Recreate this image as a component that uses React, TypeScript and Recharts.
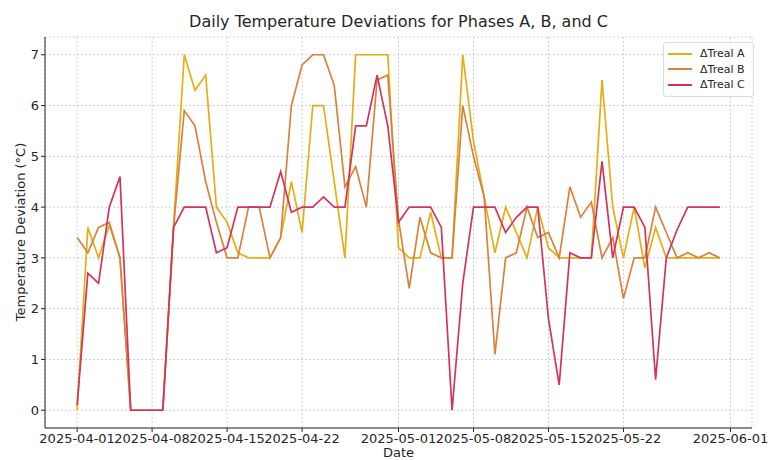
import { LineChart, Line, XAxis, YAxis, CartesianGrid, Legend } from 'recharts'

// one value per day, starting 2025-04-01
const phaseA = [
  0, 3.6, 3.0, 3.65, 3.0, 0, 0, 0, 0, 3.6,
  7.0, 6.3, 6.6, 4.0, 3.7, 3.1, 3.0, 3.0, 3.0, 3.4,
  4.5, 3.5, 6.0, 6.0, 4.5, 3.0, 7.0, 7.0, 7.0, 7.0,
  3.2, 3.0, 3.0, 3.9, 3.0, 3.0, 7.0, 5.3, 4.2, 3.1,
  4.0, 3.5, 3.0, 4.0, 3.2, 3.0, 3.0, 3.0, 3.0, 6.5,
  4.0, 3.0, 4.0, 2.8, 3.6, 3.0, 3.0, 3.0, 3.0, 3.0,
  3.0,
]
const phaseB = [
  3.4, 3.1, 3.6, 3.7, 3.0, 0, 0, 0, 0, 3.6,
  5.9, 5.6, 4.5, 3.7, 3.0, 3.0, 4.0, 4.0, 3.0, 3.4,
  6.0, 6.8, 7.0, 7.0, 6.4, 4.4, 4.8, 4.0, 6.5, 6.6,
  3.75, 2.4, 3.8, 3.1, 3.0, 3.0, 6.0, 5.0, 4.2, 1.1,
  3.0, 3.1, 4.0, 3.4, 3.5, 3.0, 4.4, 3.8, 4.1, 3.0,
  3.4, 2.2, 3.0, 3.0, 4.0, 3.5, 3.0, 3.1, 3.0, 3.1,
  3.0,
]
const phaseC = [
  0.1, 2.7, 2.5, 4.0, 4.6, 0, 0, 0, 0, 3.6,
  4.0, 4.0, 4.0, 3.1, 3.2, 4.0, 4.0, 4.0, 4.0, 4.7,
  3.9, 4.0, 4.0, 4.2, 4.0, 4.0, 5.6, 5.6, 6.6, 5.6,
  3.7, 4.0, 4.0, 4.0, 3.6, 0, 2.5, 4.0, 4.0, 4.0,
  3.5, 3.8, 4.0, 4.0, 1.8, 0.5, 3.1, 3.0, 3.0, 4.9,
  3.0, 4.0, 4.0, 3.6, 0.6, 3.0, 3.55, 4.0, 4.0, 4.0,
  4.0,
]

const xTickDays = [0, 7, 14, 21, 30, 37, 44, 51, 61]
const xTickLabels = [
  '2025-04-01', '2025-04-08', '2025-04-15', '2025-04-22', '2025-05-01',
  '2025-05-08', '2025-05-15', '2025-05-22', '2025-06-01',
]
const yTicks = [0, 1, 2, 3, 4, 5, 6, 7]

const series = [
  { key: 'a', name: 'ΔTreal A', color: '#E6AD16' },
  { key: 'b', name: 'ΔTreal B', color: '#D9823C' },
  { key: 'c', name: 'ΔTreal C', color: '#D2345E' },
]

const data = phaseA.map((a, i) => ({ day: i, a, b: phaseB[i], c: phaseC[i] }))

const font = '"DejaVu Sans", sans-serif'
const ink = '#262626'

function LegendBox() {
  return (
    <div
      style={{
        border: '1px solid #dcdcdc',
        borderRadius: 3,
        background: 'rgba(255,255,255,0.85)',
        padding: '3px 8px 3px 4px',
        fontSize: 11,
        color: ink,
        fontFamily: font,
      }}
    >
      {series.map((s) => (
        <div key={s.key} style={{ display: 'flex', alignItems: 'center', height: 15.5 }}>
          <span style={{ width: 24, borderTop: `2px solid ${s.color}`, marginRight: 8 }} />
          {s.name}
        </div>
      ))}
    </div>
  )
}

export default function App() {
  return (
    <div
      style={{
        position: 'absolute', left: 0, top: 0, width: 768, height: 460,
        background: '#fff', fontFamily: font, color: ink,
      }}
    >
      <div style={{ position: 'absolute', top: 12, left: 45, width: 707, textAlign: 'center', fontSize: 16, lineHeight: '20px' }}>
        Daily Temperature Deviations for Phases A, B, and C
      </div>
      <div style={{ position: 'absolute', top: 445, left: 45, width: 707, textAlign: 'center', fontSize: 13, lineHeight: '16px' }}>
        Date
      </div>
      <div
        style={{
          position: 'absolute', left: 20, top: 232, fontSize: 13, whiteSpace: 'nowrap',
          transform: 'translate(-50%, -50%) rotate(-90deg)',
        }}
      >
        Temperature Deviation (°C)
      </div>
      <LineChart width={768} height={460} data={data} margin={{ top: 37, right: 16, bottom: 7, left: 5 }}>
        <CartesianGrid stroke="#cfcfcf" strokeDasharray="2 2" />
        <XAxis
          type="number"
          dataKey="day"
          domain={[-3, 63]}
          ticks={xTickDays}
          interval={0}
          tickFormatter={(d: number) => xTickLabels[xTickDays.indexOf(d)]}
          height={25}
          tickSize={4}
          stroke={ink}
          tick={{ fontSize: 13, fill: ink, fontFamily: font }}
          allowDataOverflow
        />
        <YAxis
          type="number"
          domain={[-0.35, 7.35]}
          ticks={yTicks}
          interval={0}
          width={40}
          tickSize={4}
          stroke={ink}
          tick={{ fontSize: 13, fill: ink, fontFamily: font }}
          allowDataOverflow
        />
        <Legend
          layout="vertical"
          align="center"
          verticalAlign="middle"
          content={() => <LegendBox />}
          wrapperStyle={{ position: 'absolute', left: 663, top: 42, width: 'auto', height: 'auto' }}
        />
        {series.map((s) => (
          <Line
            key={s.key}
            type="linear"
            dataKey={s.key}
            name={s.name}
            stroke={s.color}
            strokeWidth={1.7}
            dot={false}
            activeDot={false}
            isAnimationActive={false}
          />
        ))}
      </LineChart>
    </div>
  )
}
